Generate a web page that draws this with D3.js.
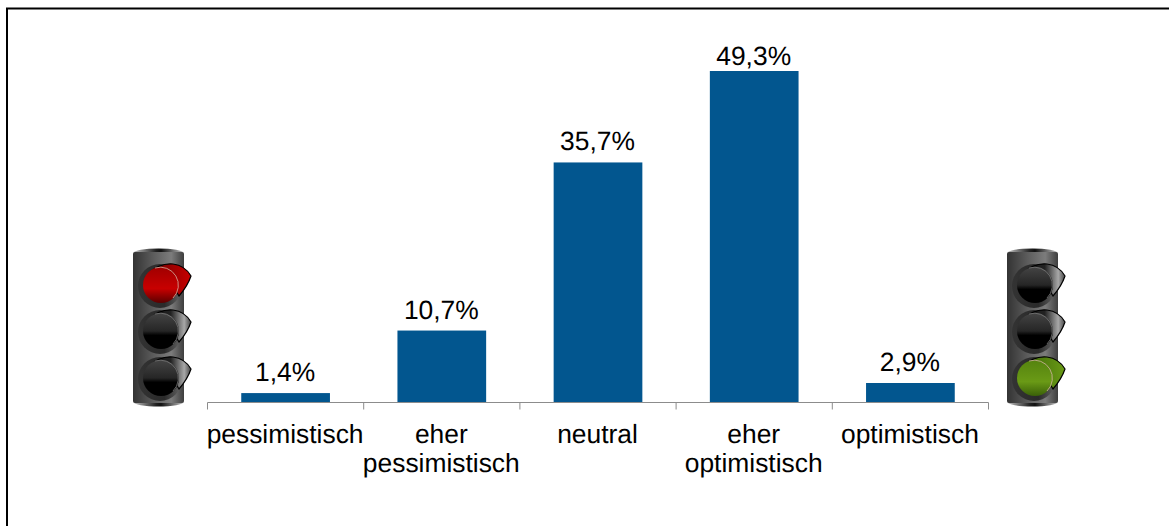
<!DOCTYPE html>
<html>
<head>
<meta charset="utf-8">
<script src="https://cdn.jsdelivr.net/npm/d3@7"></script>
<style>
  html, body { margin:0; padding:0; background:#fff; }
  svg { display:block; }
  text { font-family:"Liberation Sans", Arial, sans-serif; fill:#000; text-rendering:geometricPrecision; }
</style>
</head>
<body>
<div id="chart"></div>
<script>
// chart data
const categories = ['pessimistisch', 'eher pessimistisch', 'neutral', 'eher optimistisch', 'optimistisch'];
const labelLines = [['pessimistisch'], ['eher', 'pessimistisch'], ['neutral'], ['eher', 'optimistisch'], ['optimistisch']];
const values = [1.4, 10.7, 35.7, 49.3, 2.9];
const lights = [
  {name:'left', lit:0, color:['#c80000','#a00000','#5a0000'], x:133},
  {name:'right', lit:2, color:['#6a9a16','#55830f','#3a6008'], x:1007}
];

const W = 1169, H = 526;
const svg = d3.select('#chart').append('svg').attr('width', W).attr('height', H);
const defs = svg.append('defs');

// frame - only left, top and right edge show in the crop
svg.append('path')
  .attr('d', `M7,${H} V8.5 H${W}`)
  .attr('fill','none').attr('stroke','#000').attr('stroke-width',2);

const x = d3.scaleBand().domain(categories).range([207.5, 988.5]).paddingInner(0).paddingOuter(0);
const y = d3.scaleLinear().domain([0, 49.3]).range([402.5, 71]);
const barW = 88.7;

// bars
svg.selectAll('rect.bar').data(values).join('rect')
  .attr('class','bar')
  .attr('x', (d,i) => x(categories[i]) + (x.bandwidth()-barW)/2)
  .attr('y', d => y(d))
  .attr('width', barW)
  .attr('height', d => y(0)-y(d))
  .attr('fill','#02568f');

// axis line and ticks at the band edges
const axisG = svg.append('g');
axisG.append('line').attr('x1',x.range()[0]).attr('x2',x.range()[1]).attr('y1',y(0)).attr('y2',y(0)).attr('stroke','#8c8c8c');
const edges = categories.map(c => x(c)).concat([x.range()[1]]);
axisG.selectAll('line.tick').data(edges).join('line')
  .attr('class','tick')
  .attr('x1',d=>d).attr('x2',d=>d).attr('y1',y(0)).attr('y2',y(0)+7).attr('stroke','#8c8c8c');

// value labels, the tallest one gets pushed down to stay inside the plot
svg.selectAll('text.val').data(values).join('text')
  .attr('class','val')
  .attr('x', (d,i) => x(categories[i]) + x.bandwidth()/2 - 0.5)
  .attr('y', d => Math.max(y(d) - 12, 65))
  .attr('text-anchor','middle')
  .attr('font-size',26.4)
  .text(d => d.toFixed(1).replace('.', ',') + '%');

// category labels
labelLines.forEach((lines,i) => {
  lines.forEach((t,j) => {
    svg.append('text')
      .attr('x', x(categories[i]) + x.bandwidth()/2 - 0.5)
      .attr('y', y(0) + 40 + j*29)
      .attr('text-anchor','middle')
      .attr('font-size',26.4)
      .text(t);
  });
});

// gradients for the traffic lights
function grad(id, stops, vertical){
  const g = defs.append('linearGradient').attr('id',id)
    .attr('x1','0').attr('y1','0').attr('x2',vertical?'0':'1').attr('y2',vertical?'1':'0');
  stops.forEach(s => g.append('stop').attr('offset',s[0]).attr('stop-color',s[1]));
}
grad('body',[[0,'#333'],[0.4,'#5c5c5c'],[0.75,'#7c7c7c'],[1,'#3e3e3e']],false);
grad('cap',[[0,'#c0c0c0'],[0.45,'#222'],[0.55,'#111'],[1,'#c0c0c0']],false);
grad('ring',[[0,'#333'],[0.6,'#2a2a2a'],[1,'#666']],false);
grad('hood',[[0,'#111'],[0.55,'#222'],[0.85,'#a8a8a8'],[1,'#444']],false);
grad('dark',[[0,'#444'],[0.5,'#262626'],[0.62,'#000'],[1,'#000']],true);
lights.forEach(l => {
  grad('lit-'+l.name,[[0,l.color[1]],[0.6,l.color[0]],[1,l.color[2]]],true);
  grad('hood-'+l.name,[[0,l.color[2]],[0.6,l.color[1]],[1,l.color[0]]],false);
});

const lensY = [285, 331, 378];
lights.forEach(l => {
  const g = svg.append('g').attr('transform',`translate(${l.x},0)`);
  // body and end caps
  g.append('ellipse').attr('cx',25.5).attr('cy',253).attr('rx',25).attr('ry',4.5).attr('fill','url(#cap)');
  g.append('ellipse').attr('cx',25.5).attr('cy',402).attr('rx',25).attr('ry',4.5).attr('fill','url(#cap)');
  g.append('rect').attr('x',0).attr('y',252).attr('width',51).attr('height',151).attr('rx',2).attr('fill','url(#body)');

  lensY.forEach((cy,i) => {
    const on = i === l.lit;
    const s = g.append('g').attr('transform',`translate(28,${cy})`);
    // ring round the lens
    s.append('circle').attr('r',22).attr('cx',-1).attr('cy',1).attr('fill','url(#ring)');
    // visor with its tip pointing right
    s.append('path')
      .attr('d','M-15,-8 C-8,-18 3,-22 12,-21 C20,-20 26,-16 30,-9 C28,-3 24,4 18,11 C12,-1 -2,-9 -15,-8 Z')
      .attr('fill', on ? `url(#hood-${l.name})` : 'url(#hood)')
      .attr('stroke','#000').attr('stroke-width',1.2);
    // lens
    s.append('circle').attr('r',18).attr('cx',0)
      .attr('fill', on ? `url(#lit-${l.name})` : 'url(#dark)');
    s.append('path')
      .attr('d','M-6,-17 A18,18 0 0 1 12,13')
      .attr('fill','none').attr('stroke', on ? '#d0b0a0' : '#777').attr('stroke-opacity',0.8).attr('stroke-width',1);
  });
});
</script>
</body>
</html>
